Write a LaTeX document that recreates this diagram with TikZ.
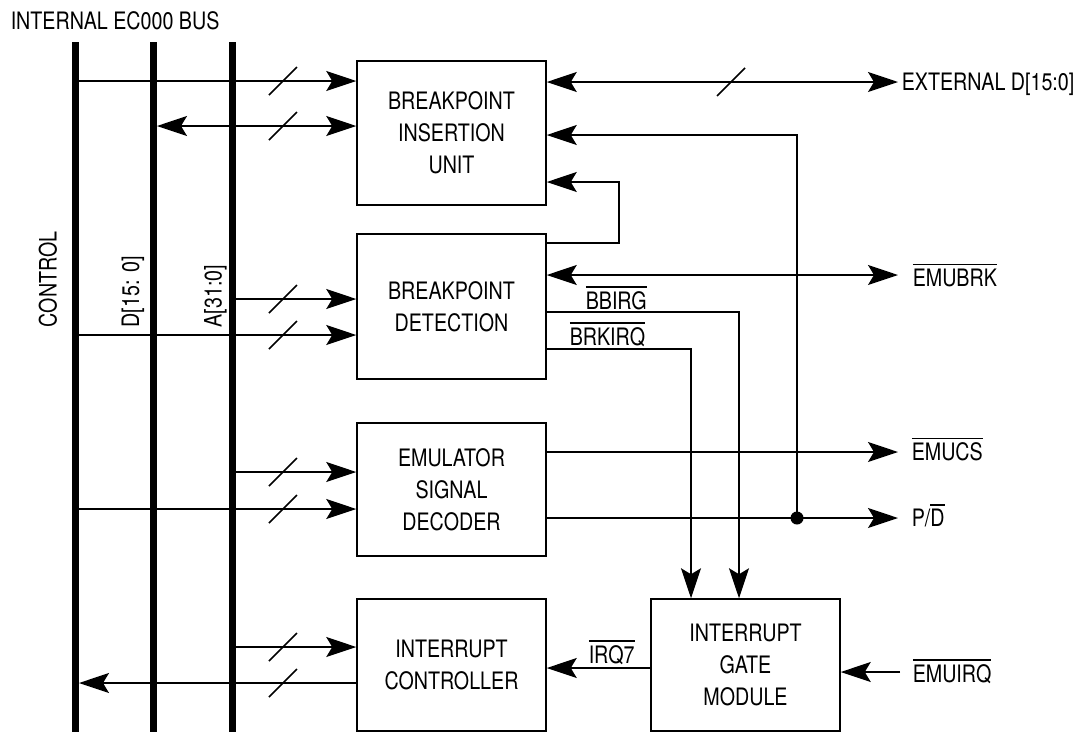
\documentclass[tikz,border=0pt]{standalone}
\usepackage{fontspec}
\setmainfont{TeX Gyre Heros}[FakeStretch=0.82]
\usetikzlibrary{arrows.meta}
\newcommand\ovl[1]{\leavevmode\vbox{\hrule height 1.2pt\kern 3.5pt\hbox{#1}}}
\newcommand\slashmark[2]{\draw (#1-14,#2+14) -- (#1+14,#2-14);}
\begin{document}
\begin{tikzpicture}[x=1pt,y=-1pt,line width=1.5pt,
  arr/.style={-{Stealth[length=30pt,width=20pt,inset=6pt]}},
  barr/.style={{Stealth[length=30pt,width=20pt,inset=6pt]}-{Stealth[length=30pt,width=20pt,inset=6pt]}},
  blk/.style={draw,minimum width=189pt,inner sep=0pt,align=center,font=\fontsize{24}{32}\selectfont},
  lbl/.style={inner sep=0pt,font=\fontsize{24}{32}\selectfont},
  bus/.style={line width=7pt}]
\useasboundingbox (0,0) rectangle (1087,732);
% blocks
\node[blk,minimum height=144pt] (b1) at (451.5,133) {BREAKPOINT\\INSERTION\\UNIT};
\node[blk,minimum height=145pt] (b2) at (451.5,306.5) {BREAKPOINT\\DETECTION};
\node[blk,minimum height=133pt] (b3) at (451.5,489.5) {EMULATOR\\SIGNAL\\DECODER};
\node[blk,minimum height=132pt] (b4) at (451.5,665) {INTERRUPT\\CONTROLLER};
\node[blk,minimum height=132pt] (b5) at (745.5,665) {INTERRUPT\\GATE\\MODULE};
% bus coordinates
\coordinate (bus1t) at (75.5,42);  \coordinate (bus1b) at (75.5,732);
\coordinate (bus2t) at (153.5,42); \coordinate (bus2b) at (153.5,732);
\coordinate (bus3t) at (232.5,42); \coordinate (bus3b) at (232.5,732);
\coordinate (c1) at (79,0); \coordinate (c2) at (157,0); \coordinate (c3) at (236,0);
\coordinate (dot) at (797,518);
% left side connections
\draw[arr] (c1 |- 0,81) -- (b1.west |- 0,81);
\draw[barr] (c2 |- 0,126) -- (b1.west |- 0,126);
\draw[arr] (c3 |- 0,299) -- (b2.west |- 0,299);
\draw[arr] (c1 |- 0,335) -- (b2.west |- 0,335);
\draw[arr] (c3 |- 0,472) -- (b3.west |- 0,472);
\draw[arr] (c1 |- 0,509) -- (b3.west |- 0,509);
\draw[arr] (c3 |- 0,647) -- (b4.west |- 0,647);
\draw[arr] (b4.west |- 0,683) -- (c1 |- 0,683);
% buses
\draw[bus] (bus1t) -- (bus1b);
\draw[bus] (bus2t) -- (bus2b);
\draw[bus] (bus3t) -- (bus3b);
% slashes
\slashmark{283}{81}
\slashmark{283}{126}
\slashmark{283}{299}
\slashmark{283}{335}
\slashmark{283}{472}
\slashmark{283}{509}
\slashmark{283}{647}
\slashmark{283}{683}
\slashmark{731}{82}
% right side connections
\draw[barr] (b1.east |- 0,82) -- (898,82);
\draw[arr] (dot) -- (797,135) -- (b1.east |- 0,135);
\draw[arr] (b2.east |- 0,243) -| (619,182) -- (b1.east |- 0,182);
\draw[barr] (b2.east |- 0,275) -- (898,275);
\draw[arr] (b2.east |- 0,312) -| (b5.north -| 739,0);
\draw[arr] (b2.east |- 0,349) -| (b5.north -| 691,0);
\draw[arr] (b3.east |- 0,452) -- (898,452);
\draw[arr] (b3.east |- 0,518) -- (898,518);
\fill (dot) circle (6.5pt);
\draw[arr] (b5.west |- 0,668) -- (b4.east |- 0,668);
\draw[arr] (900,672) -- (b5.east |- 0,672);
% labels
\node[lbl,anchor=base west] (title) at (10,29.5) {INTERNAL EC000 BUS};
\node[lbl,rotate=90,anchor=base west] (lctl) at (56.6,328) {CONTROL};
\node[lbl,rotate=90,anchor=base west] (ld) at (139,328) {D[15: 0]};
\node[lbl,rotate=90,anchor=base west] (la) at (221.6,328) {A[31:0]};
\node[lbl,anchor=base west] (lext) at (901,90.6) {EXTERNAL D[15:0]};
\node[lbl,anchor=base west] (lbrk) at (912,286) {\ovl{EMUBRK}};
\node[lbl,anchor=base west] (lbbi) at (585,309) {\ovl{BBIRG}};
\node[lbl,anchor=base west] (lbrq) at (569,345) {\ovl{BRKIRQ}};
\node[lbl,anchor=base west] (lcs) at (911,460.6) {\ovl{EMUCS}};
\node[lbl,anchor=base west] (lpd) at (911,526.6) {P/\ovl{D}};
\node[lbl,anchor=base west] (lirq) at (588,663) {\ovl{IRQ7}};
\node[lbl,anchor=base west] (lemi) at (912,682) {\ovl{EMUIRQ}};
\end{tikzpicture}
\end{document}
